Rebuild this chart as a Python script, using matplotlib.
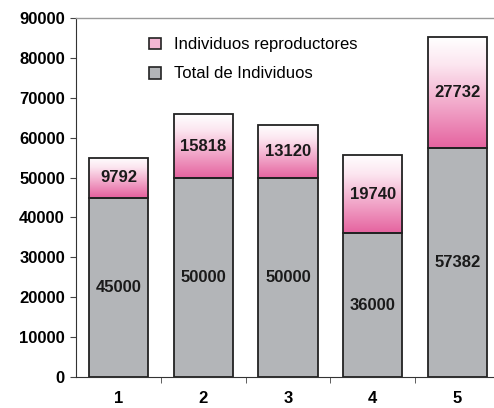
import matplotlib
matplotlib.use("Agg")
import matplotlib.pyplot as plt
import numpy as np
from matplotlib.colors import LinearSegmentedColormap
from matplotlib.patches import Patch

categorias = ["1", "2", "3", "4", "5"]
total_individuos = [45000, 50000, 50000, 36000, 57382]
reproductores = [9792, 15818, 13120, 19740, 27732]
yticks = [0, 10000, 20000, 30000, 40000, 50000, 60000, 70000, 80000, 90000]

plt.rcParams["font.family"] = ["Liberation Sans", "DejaVu Sans"]

fig = plt.figure(figsize=(4.94, 4.08), dpi=100)
ax = fig.add_axes([76 / 494, 31 / 408, 424 / 494, 359 / 408])

x = np.arange(1, len(categorias) + 1)
ancho = 0.70
gris = "#b3b5b8"

barras_total = ax.bar(x, total_individuos, ancho, color=gris,
                      edgecolor="#222222", linewidth=1.3, zorder=3)
barras_rep = ax.bar(x, reproductores, ancho, bottom=total_individuos,
                    facecolor="none", edgecolor="#222222", linewidth=1.3, zorder=4)

ax.set_xlim(0.5, 5.5)
ax.set_ylim(0, 90000)

# degradado blanco -> rosa en los segmentos superiores
rosa = LinearSegmentedColormap.from_list(
    "rosa", [(0.0, "#e5639f"), (0.4, "#f2aacb"), (0.75, "#fce6f0"), (1.0, "#ffffff")])
grad = np.linspace(0, 1, 256).reshape(-1, 1)
for barra in barras_rep:
    x0, y0 = barra.get_x(), barra.get_y()
    w, h = barra.get_width(), barra.get_height()
    img = ax.imshow(grad, cmap=rosa, aspect="auto", origin="lower",
                    extent=[x0, x0 + w, y0, y0 + h], zorder=2)
    img.set_clip_path(barra)
ax.set_xlim(0.5, 5.5)
ax.set_ylim(0, 90000)

ax.bar_label(barras_total, labels=[str(v) for v in total_individuos],
             label_type="center", fontsize=12, fontweight="bold",
             color="#1a1a1a", zorder=5)
ax.bar_label(barras_rep, labels=[str(v) for v in reproductores],
             label_type="center", fontsize=12, fontweight="bold",
             color="#1a1a1a", zorder=5)

ax.set_yticks(yticks)
ax.set_yticklabels([str(v) for v in yticks], fontsize=12, fontweight="bold")
ax.set_xticks(x)
ax.set_xticklabels(categorias, fontsize=12, fontweight="bold")
ax.tick_params(axis="x", length=0, pad=10)
ax.set_xticks(np.arange(1.5, 5.5, 1), minor=True)
ax.tick_params(axis="x", which="minor", length=4, color="#444444", direction="out")
ax.tick_params(axis="y", length=4, color="#444444", direction="out", pad=4)

ax.spines["right"].set_visible(False)
ax.spines["top"].set_color("#9a9a9a")
ax.spines["top"].set_linewidth(1.0)
ax.spines["left"].set_color("#333333")
ax.spines["bottom"].set_color("#333333")

handles = [Patch(facecolor="#f4b6d4", edgecolor="#222222", linewidth=1.2),
           Patch(facecolor=gris, edgecolor="#222222", linewidth=1.2)]
ax.legend(handles, ["Individuos reproductores", "Total de Individuos"],
          loc="upper left", bbox_to_anchor=(141 / 494, 1 - 29 / 408),
          bbox_transform=fig.transFigure, frameon=False, fontsize=12,
          handlelength=0.7, handleheight=0.7, handletextpad=0.8,
          labelspacing=0.85, borderpad=0.0)

fig.savefig("out.png", dpi=100)
